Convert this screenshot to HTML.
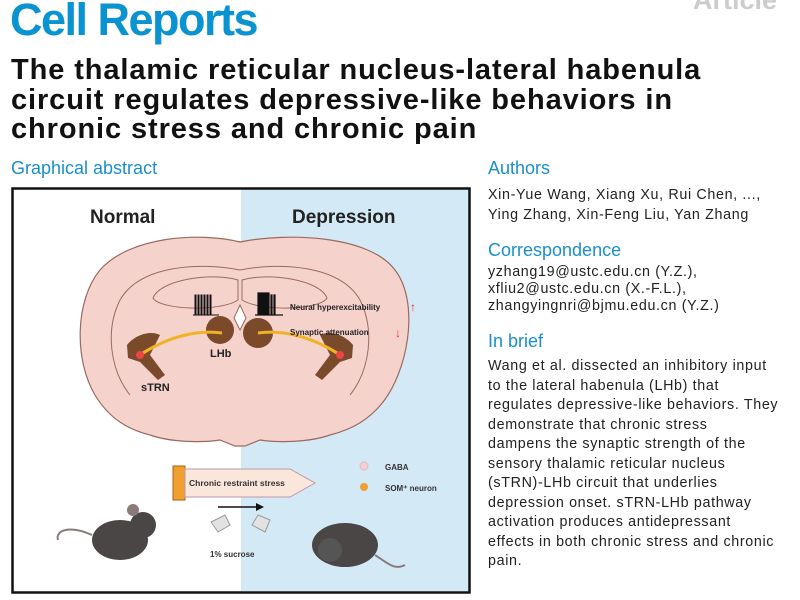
<!DOCTYPE html>
<html><head><meta charset="utf-8"><style>
body{margin:0;width:800px;height:600px;background:#fff;position:relative;overflow:hidden;font-family:"Liberation Sans",sans-serif}
.a{position:absolute;white-space:nowrap}
.h{color:#1a8fc9;font-size:18px}
.t{font-size:14.3px;color:#222;letter-spacing:0.65px}
</style></head><body>
<div class="a" style="left:10px;top:-6px;font-size:45px;font-weight:bold;color:#0a93d1;letter-spacing:-1.5px">Cell Reports</div>
<div class="a" style="left:693px;top:-15px;font-size:27px;font-weight:bold;color:#ccc">Article</div>
<div class="a" style="left:11px;top:56px;font-size:29px;font-weight:bold;color:#111;line-height:29.5px;letter-spacing:0.9px">The thalamic reticular nucleus-lateral habenula<br>circuit regulates depressive-like behaviors in<br>chronic stress and chronic pain</div>
<div class="a h" style="left:11px;top:158px">Graphical abstract</div>
<div class="a h" style="left:488px;top:158px">Authors</div>
<div class="a t" style="left:488px;top:185px;line-height:20px">Xin-Yue Wang, Xiang Xu, Rui Chen, ...,<br>Ying Zhang, Xin-Feng Liu, Yan Zhang</div>
<div class="a h" style="left:488px;top:240px">Correspondence</div>
<div class="a t" style="left:488px;top:264px;line-height:17px">yzhang19@ustc.edu.cn (Y.Z.),<br>xfliu2@ustc.edu.cn (X.-F.L.),<br>zhangyingnri@bjmu.edu.cn (Y.Z.)</div>
<div class="a h" style="left:488px;top:331px">In brief</div>
<div class="a t" style="left:488px;top:357px;line-height:19.5px">Wang et al. dissected an inhibitory input<br>to the lateral habenula (LHb) that<br>regulates depressive-like behaviors. They<br>demonstrate that chronic stress<br>dampens the synaptic strength of the<br>sensory thalamic reticular nucleus<br>(sTRN)-LHb circuit that underlies<br>depression onset. sTRN-LHb pathway<br>activation produces antidepressant<br>effects in both chronic stress and chronic<br>pain.</div>
<svg class="a" style="left:0;top:0" width="800" height="600">
<rect x="241" y="189" width="228" height="402" fill="#d4e9f6"/>
<rect x="12.5" y="188.5" width="457" height="404" fill="none" stroke="#111" stroke-width="2.5"/>
<text x="90" y="223" font-size="19" font-weight="bold" fill="#222" font-family="Liberation Sans">Normal</text>
<text x="292" y="223" font-size="19" font-weight="bold" fill="#222" font-family="Liberation Sans">Depression</text>
<path d="M240,242 C200,232 130,236 100,270 C75,300 74,360 95,395 C110,420 130,430 150,435 C170,442 200,443 220,440 L235,446 L245,446 L260,440 C280,443 310,442 330,435 C350,430 372,420 388,395 C410,360 418,300 395,270 C370,236 290,232 240,242 Z" fill="#f6d2cd" stroke="#9b6a5f" stroke-width="1.2"/>
<path d="M240,270 C200,262 140,265 120,300 C105,330 110,370 130,395 M240,270 C280,262 340,265 360,300 C375,330 370,370 350,395" fill="none" stroke="#9b6a5f" stroke-width="1"/>
<path d="M238,280 C210,272 160,280 153,298 C160,310 220,312 238,300 Z M242,280 C270,272 320,280 327,298 C320,310 262,312 242,300 Z" fill="none" stroke="#9b6a5f" stroke-width="1"/>
<path d="M240,305 L234,318 L240,330 L246,318 Z" fill="#fff" stroke="#9b6a5f"/>
<path d="M127,345 C135,335 150,330 160,335 L150,355 L165,375 L158,380 L140,362 L128,358 Z" fill="#7a4a2a"/>
<path d="M353,345 C345,335 330,330 320,335 L330,355 L315,375 L322,380 L340,362 L352,358 Z" fill="#7a4a2a"/>
<circle cx="220" cy="330" r="14" fill="#7a4a2a"/><circle cx="258" cy="333" r="15" fill="#7a4a2a"/>
<path d="M140,355 C170,335 200,330 222,333 M340,355 C310,335 280,330 258,333" stroke="#f0b323" stroke-width="3" fill="none"/>
<circle cx="140" cy="355" r="4" fill="#e44"/><circle cx="340" cy="355" r="4" fill="#e44"/>
<path d="M193,315 h2 v-20 h1 v20 h2 v-20 h1 v20 h2 v-20 h1 v20 h2 v-20 h1 v20 h2 v-20 h1 v20 h2 v-20 h1 v20 h8" stroke="#111" fill="none" stroke-width="1"/>
<path d="M255,315 h3 v-22 h1 v22 h1 v-22 h1 v22 h1 v-22 h1 v22 h1 v-22 h1 v22 h1 v-22 h1 v22 h1 v-22 h1 v22 h2 v-20 h1 v20 h2 v-20 h1 v20 h8" stroke="#111" fill="none" stroke-width="1.2"/>
<text x="290" y="310" font-size="8" font-weight="bold" fill="#222" font-family="Liberation Sans">Neural hyperexcitability</text>
<text x="410" y="311" font-size="12" fill="#d33">↑</text>
<text x="290" y="335" font-size="8" font-weight="bold" fill="#222" font-family="Liberation Sans">Synaptic attenuation</text>
<text x="395" y="337" font-size="12" fill="#d33">↓</text>
<text x="210" y="357" font-size="11" font-weight="bold" fill="#222" font-family="Liberation Sans">LHb</text>
<text x="141" y="391" font-size="11" font-weight="bold" fill="#222" font-family="Liberation Sans">sTRN</text>
<rect x="173" y="466" width="12" height="34" fill="#f0a030" stroke="#b06010"/>
<path d="M185,469 H290 L315,483 L290,497 H185 Z" fill="#fbe6dc" stroke="#b9a"/>
<text x="189" y="486" font-size="8.5" font-weight="bold" fill="#333" font-family="Liberation Sans">Chronic restraint stress</text>
<path d="M218,507 H260" stroke="#111" stroke-width="1.5"/><path d="M256,503 L264,507 L256,511 Z" fill="#111"/>
<circle cx="364" cy="466" r="4" fill="#f6cfd6" stroke="#dbb"/>
<text x="385" y="470" font-size="8" font-weight="bold" fill="#333" font-family="Liberation Sans">GABA</text>
<circle cx="364" cy="487" r="4" fill="#f0a030"/>
<text x="385" y="491" font-size="8" font-weight="bold" fill="#333" font-family="Liberation Sans">SOM⁺ neuron</text>
<text x="210" y="557" font-size="8" font-weight="bold" fill="#333" font-family="Liberation Sans">1% sucrose</text>
<path d="M211,522 L225,515 L230,525 L218,532 Z M258,515 L270,520 L265,532 L252,525 Z" fill="#e2e2e2" stroke="#999"/>
<ellipse cx="120" cy="540" rx="28" ry="20" fill="#4a4646"/><circle cx="143" cy="525" r="13" fill="#4a4646"/><circle cx="133" cy="510" r="6" fill="#8a7a7a"/>
<path d="M92,535 C70,525 55,530 58,540" stroke="#8a7a7a" fill="none" stroke-width="2"/>
<ellipse cx="345" cy="545" rx="33" ry="22" fill="#4a4646"/><circle cx="330" cy="550" r="12" fill="#555"/>
<path d="M375,555 C390,565 395,570 405,565" stroke="#8a7a7a" fill="none" stroke-width="2"/>
</svg>
</body></html>
